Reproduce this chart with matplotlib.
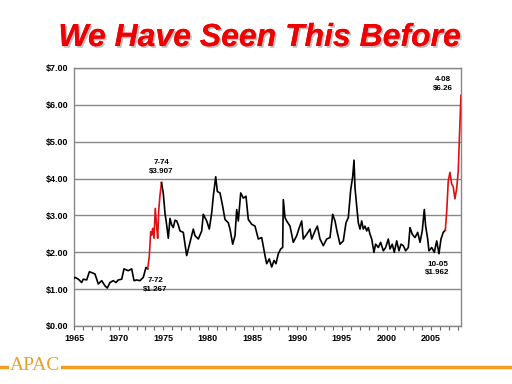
import matplotlib
matplotlib.use("Agg")
import matplotlib.pyplot as plt
import matplotlib.patheffects as pe
from matplotlib.ticker import MultipleLocator, FuncFormatter

# ---- data (decimal year, price $) ----
years_a = [1965.0, 1965.11, 1965.49, 1965.86, 1966.04, 1966.42, 1966.72, 1966.98, 1967.35,
           1967.72, 1968.10, 1968.47, 1968.73, 1969.03, 1969.40, 1969.70, 1969.96,
           1970.34, 1970.60, 1971.08, 1971.46, 1971.72, 1972.01, 1972.39, 1972.76,
           1973.06, 1973.25]
price_a = [1.30, 1.32, 1.27, 1.18, 1.27, 1.25, 1.47, 1.45, 1.41,
           1.14, 1.23, 1.09, 1.03, 1.18, 1.23, 1.18, 1.25,
           1.27, 1.55, 1.50, 1.55, 1.23, 1.25, 1.23, 1.32,
           1.59, 1.55]

years_b = [1973.25, 1973.43, 1973.59, 1973.70, 1973.81, 1973.96, 1974.10, 1974.26,
           1974.37, 1974.49, 1974.63, 1974.80]
price_b = [1.55, 1.88, 2.56, 2.47, 2.65, 2.38, 3.19, 2.69,
           2.38, 3.14, 3.55, 3.89]

years_c = [1974.80, 1975.00, 1975.19, 1975.38, 1975.56, 1975.75, 1975.94, 1976.12, 1976.31,
           1976.50, 1976.68, 1976.87, 1977.24, 1977.43, 1977.62, 1977.99, 1978.36,
           1978.55, 1978.92, 1979.30, 1979.48, 1979.86, 1980.15, 1980.42, 1980.60,
           1980.87, 1981.05, 1981.35, 1981.65, 1981.91, 1982.28, 1982.47, 1982.77,
           1983.03, 1983.22, 1983.40, 1983.67, 1983.96, 1984.26, 1984.52, 1984.90,
           1985.27, 1985.64, 1986.02, 1986.39, 1986.58, 1986.87, 1987.14, 1987.40,
           1987.62, 1987.88, 1988.15, 1988.37, 1988.44, 1988.63, 1988.82, 1989.19,
           1989.56, 1989.94, 1990.23, 1990.50, 1990.68, 1991.06, 1991.43, 1991.62,
           1991.99, 1992.25, 1992.55, 1992.92, 1993.30, 1993.67, 1993.97, 1994.23,
           1994.48, 1994.79, 1995.16, 1995.46, 1995.72, 1995.99, 1996.21, 1996.36,
           1996.47, 1996.66, 1996.84, 1997.03, 1997.22, 1997.40, 1997.59, 1997.78,
           1997.96, 1998.15, 1998.34, 1998.59, 1998.78, 1999.08, 1999.34, 1999.64,
           1999.90, 2000.20, 2000.39, 2000.64, 2000.87, 2001.14, 2001.39, 2001.62,
           2001.88, 2002.14, 2002.44, 2002.63, 2002.88, 2003.19, 2003.49, 2003.75,
           2004.00, 2004.23, 2004.38, 2004.61, 2004.75, 2005.06, 2005.35, 2005.62,
           2005.87, 2006.10, 2006.35, 2006.58]
price_c = [3.89, 3.60, 3.06, 2.74, 2.38, 2.92, 2.74, 2.67, 2.87,
           2.85, 2.74, 2.58, 2.54, 2.22, 1.91, 2.27, 2.63,
           2.45, 2.36, 2.58, 3.03, 2.85, 2.63, 3.07, 3.52,
           4.05, 3.65, 3.61, 3.25, 2.89, 2.80, 2.63, 2.22,
           2.45, 3.16, 2.85, 3.61, 3.47, 3.52, 2.89, 2.76,
           2.71, 2.36, 2.40, 1.91, 1.69, 1.82, 1.60, 1.78,
           1.69, 1.96, 2.09, 2.13, 3.43, 2.94, 2.85, 2.71,
           2.27, 2.45, 2.67, 2.85, 2.36, 2.49, 2.63, 2.36,
           2.58, 2.71, 2.36, 2.18, 2.36, 2.40, 3.03, 2.85,
           2.54, 2.22, 2.31, 2.80, 2.94, 3.70, 4.05, 4.50,
           3.75, 3.25, 2.80, 2.63, 2.85, 2.63, 2.71, 2.58,
           2.67, 2.49, 2.36, 2.00, 2.22, 2.13, 2.27, 2.04,
           2.13, 2.36, 2.09, 2.22, 2.00, 2.31, 2.04, 2.22,
           2.18, 2.04, 2.13, 2.67, 2.49, 2.40, 2.54, 2.27,
           2.58, 3.16, 2.71, 2.36, 2.04, 2.13, 2.00, 2.31,
           1.96, 2.36, 2.54, 2.60]

years_d = [2006.58, 2006.74, 2006.91, 2007.10, 2007.29, 2007.47, 2007.66, 2007.85,
           2008.03, 2008.14, 2008.26, 2008.34]
price_d = [2.60, 3.10, 3.92, 4.17, 3.86, 3.77, 3.45, 3.72,
           4.19, 4.96, 5.76, 6.26]

annot_text = ["7-74\n$3.907", "7-72\n$1.267", "10-05\n$1.962", "4-08\n$6.26"]
annot_x = [1974.75, 1974.1, 2005.7, 2006.35]
annot_y = [4.32, 1.11, 1.56, 6.57]

title = "We Have Seen This Before"

# ---- figure ----
fig = plt.figure(figsize=(5.12, 3.84), dpi=100)
fig.patch.set_facecolor("white")
ax = fig.add_axes([74/512, 1-326/384, (461-74)/512, (326-68)/384])

for v in range(0, 8):
    ax.axhline(v, color="#888888", lw=1.0, zorder=1)

ax.plot(years_a, price_a, color="black", lw=1.2, zorder=3)
ax.plot(years_b, price_b, color="#dd1111", lw=1.2, zorder=3)
ax.plot(years_c, price_c, color="black", lw=1.2, zorder=3)
ax.plot(years_d, price_d, color="#dd1111", lw=1.2, zorder=3)

ax.set_xlim(1965, 2008.34)
ax.set_ylim(0, 7)
ax.xaxis.set_major_locator(MultipleLocator(5))
ax.xaxis.set_minor_locator(MultipleLocator(1))
ax.yaxis.set_major_locator(MultipleLocator(1))
ax.yaxis.set_major_formatter(FuncFormatter(lambda v, p: f"${v:.2f}"))
ax.xaxis.set_major_formatter(FuncFormatter(lambda v, p: f"{int(round(v))}"))
ax.tick_params(axis="x", which="both", direction="out", length=3, width=0.8,
               color="#666666", labelsize=6.5, pad=3)
ax.tick_params(axis="y", which="both", length=0, labelsize=6.5, pad=4)
for lbl in ax.get_xticklabels() + ax.get_yticklabels():
    lbl.set_fontweight("bold")
    lbl.set_family("Liberation Sans")
for s in ax.spines.values():
    s.set_color("#888888")
    s.set_linewidth(1.0)

for t, x, y in zip(annot_text, annot_x, annot_y):
    ax.text(x, y, t, ha="center", va="center", fontsize=5.8, fontweight="bold",
            family="Liberation Sans", linespacing=1.35, zorder=4)

fig.text(0.507, 1-38/384, title, ha="center", va="center", color="#ee0000",
         fontsize=23, fontweight="bold", style="italic", family="Liberation Sans",
         path_effects=[pe.withSimplePatchShadow(offset=(1.3, -1.3), shadow_rgbFace="#999999", alpha=0.6),
                       pe.Normal()])

# footer: orange rule + logo text
fig.add_artist(plt.Line2D([0, 1], [1-367/384, 1-367/384], color="#f0a020", lw=2.5,
                          transform=fig.transFigure))
fig.text(35/512, 1-366/384, "APAC", ha="center", va="center", color="#e8a030",
         fontsize=14, family="Liberation Serif",
         bbox=dict(facecolor="white", edgecolor="none", pad=0.3))

fig.savefig("out.png", dpi=100, facecolor="white")
